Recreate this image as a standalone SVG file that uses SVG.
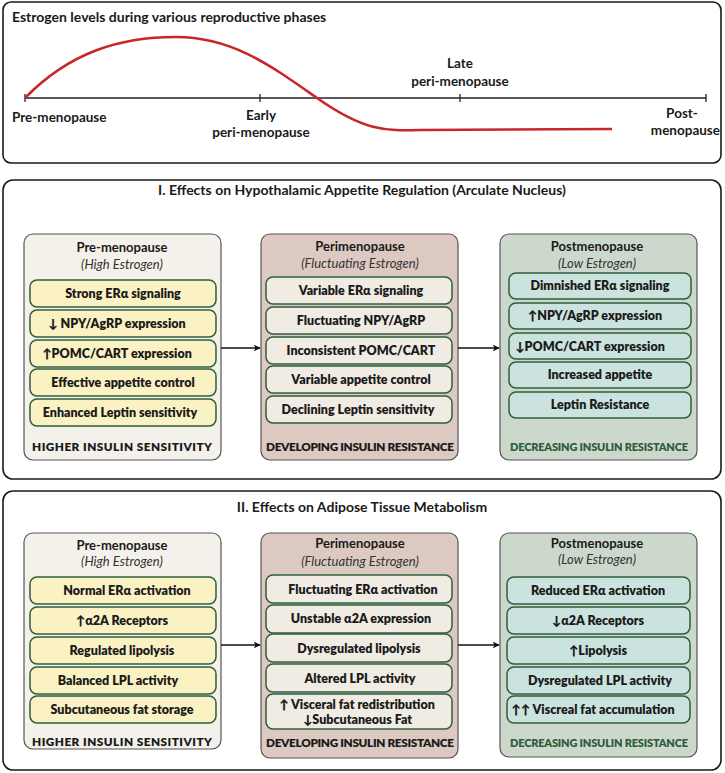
<svg xmlns="http://www.w3.org/2000/svg" width="725" height="773" viewBox="0 0 725 773">
<style>
.panel{fill:#fff;stroke:#1a1a1a;stroke-width:1.6}
.t{font-family:Lato,"Open Sans","DejaVu Sans",sans-serif;fill:#1a1a1a}
.ptitle{font-weight:700;font-size:14px}
.axl{font-family:Lato,"DejaVu Sans",sans-serif;font-weight:700;font-size:13.5px;fill:#1a1a1a}
.bA{fill:#f4f1ea;stroke:#555;stroke-width:1.2}
.bB{fill:#dcc9c1;stroke:#555;stroke-width:1.2}
.bC{fill:#cdd8cc;stroke:#555;stroke-width:1.2}
.iA{fill:#fbf2c4;stroke:#2f5e3d;stroke-width:1.5}
.iB{fill:#f0ece3;stroke:#2f5e3d;stroke-width:1.5}
.iC{fill:#cbe3de;stroke:#2f5e3d;stroke-width:1.5}
.bt{font-weight:700;font-size:13px;text-anchor:middle}
.bs{font-style:italic;font-size:13px;text-anchor:middle;fill:#333}
.it{font-weight:800;font-size:12.5px;text-anchor:middle}
.st{text-anchor:start}
.ft{font-weight:800;font-size:11.8px;text-anchor:middle}
.fg{fill:#2f5e3d;font-size:11px}
.con{stroke:#111;stroke-width:1.6;fill:none}
</style>
<defs>
<marker id="ah" viewBox="0 0 10 10" refX="9" refY="5" markerWidth="7" markerHeight="7" orient="auto" markerUnits="userSpaceOnUse">
<path d="M0,0 L10,5 L0,10 L2.5,5 Z" fill="#111"/>
</marker>
</defs>

<g id="estrogen-chart">
<rect class="panel" x="3" y="2" width="718" height="161" rx="8"/>
<text class="t ptitle" x="12" y="22" font-size="14">Estrogen levels during various reproductive phases</text>
<line x1="25" y1="98" x2="706" y2="98" stroke="#222" stroke-width="1.3"/>
<g stroke="#222" stroke-width="1.3">
<line x1="25" y1="94" x2="25" y2="102"/>
<line x1="260" y1="94" x2="260" y2="102"/>
<line x1="460" y1="94" x2="460" y2="102"/>
<line x1="706" y1="94" x2="706" y2="102"/>
</g>
<path d="M25,98 C70,52 120,37 176,37 S270,65 317,98 S385,131 420,130 L612,129" fill="none" stroke="#c8272a" stroke-width="2.6"/>
<text class="axl" x="12" y="122">Pre-menopause</text>
<text class="axl" x="261" y="120" text-anchor="middle">Early</text>
<text class="axl" x="261" y="137" text-anchor="middle">peri-menopause</text>
<text class="axl" x="460" y="68" text-anchor="middle">Late</text>
<text class="axl" x="460" y="86" text-anchor="middle">peri-menopause</text>
<text class="axl" x="682" y="118" text-anchor="middle">Post-</text>
<text class="axl" x="720" y="135" text-anchor="end">menopause</text>
</g>

<g id="section1">
<rect class="panel" x="3" y="180" width="718" height="299" rx="10"/>
<text class="t ptitle" x="362" y="195" text-anchor="middle">I. Effects on Hypothalamic Appetite Regulation (Arculate Nucleus)</text>
</g>

<g id="s1-pre">
<rect class="bA" x="24" y="234" width="197" height="226" rx="9"/>
<text class="t bt" x="122" y="252">Pre-menopause</text>
<text class="t bs" x="122" y="269">(High Estrogen)</text>
<rect class="iA" x="30" y="280" width="186" height="27" rx="7"/>
<text class="t it" x="123" y="298">Strong ERα signaling</text>
<rect class="iA" x="30" y="310" width="186" height="27" rx="7"/>
<text class="t it" x="117" y="328">↓ NPY/AgRP expression</text>
<rect class="iA" x="30" y="340" width="186" height="27" rx="7"/>
<text class="t it" x="117" y="358">↑POMC/CART expression</text>
<rect class="iA" x="30" y="369" width="186" height="27" rx="7"/>
<text class="t it" x="123" y="387">Effective appetite control</text>
<rect class="iA" x="30" y="399" width="186" height="27" rx="7"/>
<text class="t it" x="120" y="417">Enhanced Leptin sensitivity</text>
<text class="t ft" x="122" y="451" textLength="180">HIGHER INSULIN SENSITIVITY</text>
</g>

<g id="s1-peri">
<rect class="bB" x="261" y="234" width="197" height="226" rx="9"/>
<text class="t bt" x="360" y="251">Perimenopause</text>
<text class="t bs" x="360" y="268">(Fluctuating Estrogen)</text>
<rect class="iB" x="266" y="277" width="186" height="27" rx="7"/>
<text class="t it" x="361" y="295">Variable ERα signaling</text>
<rect class="iB" x="266" y="307" width="186" height="27" rx="7"/>
<text class="t it" x="361" y="325">Fluctuating NPY/AgRP</text>
<rect class="iB" x="266" y="337" width="186" height="27" rx="7"/>
<text class="t it" x="361" y="355">Inconsistent POMC/CART</text>
<rect class="iB" x="266" y="366" width="186" height="27" rx="7"/>
<text class="t it" x="361" y="384">Variable appetite control</text>
<rect class="iB" x="266" y="396" width="186" height="27" rx="7"/>
<text class="t it" x="358" y="414">Declining Leptin sensitivity</text>
<text class="t ft" x="360" y="451" textLength="188">DEVELOPING INSULIN RESISTANCE</text>
</g>

<g id="s1-post">
<rect class="bC" x="500" y="234" width="197" height="226" rx="9"/>
<text class="t bt" x="597" y="251">Postmenopause</text>
<text class="t bs" x="597" y="268">(Low Estrogen)</text>
<rect class="iC" x="509" y="273" width="182" height="26" rx="7"/>
<text class="t it" x="600" y="290">Dimnished ERα signaling</text>
<rect class="iC" x="509" y="303" width="182" height="26" rx="7"/>
<text class="t it" x="595" y="320">↑NPY/AgRP expression</text>
<rect class="iC" x="509" y="333" width="182" height="26" rx="7"/>
<text class="t it" x="590" y="351">↓POMC/CART expression</text>
<rect class="iC" x="509" y="362" width="182" height="26" rx="7"/>
<text class="t it" x="600" y="379">Increased appetite</text>
<rect class="iC" x="509" y="392" width="182" height="26" rx="7"/>
<text class="t it" x="600" y="409">Leptin Resistance</text>
<text class="t ft fg" x="599" y="451" textLength="178">DECREASING INSULIN RESISTANCE</text>
</g>

<g id="section2">
<rect class="panel" x="3" y="491" width="718" height="279" rx="10"/>
<text class="t ptitle" x="362" y="512" text-anchor="middle">II. Effects on Adipose Tissue Metabolism</text>
</g>

<g id="s2-pre">
<rect class="bA" x="24" y="533" width="197" height="216" rx="9"/>
<text class="t bt" x="122" y="550">Pre-menopause</text>
<text class="t bs" x="122" y="566">(High Estrogen)</text>
<rect class="iA" x="30" y="577" width="186" height="27" rx="7"/>
<text class="t it" x="127" y="595">Normal ERα activation</text>
<rect class="iA" x="30" y="607" width="186" height="27" rx="7"/>
<text class="t it" x="122" y="625">↑α2A Receptors</text>
<rect class="iA" x="30" y="637" width="186" height="27" rx="7"/>
<text class="t it" x="122" y="655">Regulated lipolysis</text>
<rect class="iA" x="30" y="667" width="186" height="27" rx="7"/>
<text class="t it" x="118" y="685">Balanced LPL activity</text>
<rect class="iA" x="30" y="696" width="186" height="27" rx="7"/>
<text class="t it" x="122" y="714">Subcutaneous fat storage</text>
<text class="t ft" x="122" y="746" textLength="180">HIGHER INSULIN SENSITIVITY</text>
</g>

<g id="s2-peri">
<rect class="bB" x="261" y="533" width="197" height="225" rx="9"/>
<text class="t bt" x="360" y="548">Perimenopause</text>
<text class="t bs" x="360" y="566">(Fluctuating Estrogen)</text>
<rect class="iB" x="266" y="575" width="186" height="28" rx="7"/>
<text class="t it" x="363" y="594">Fluctuating ERα activation</text>
<rect class="iB" x="266" y="605" width="186" height="28" rx="7"/>
<text class="t it" x="361" y="623">Unstable α2A expression</text>
<rect class="iB" x="266" y="634" width="186" height="28" rx="7"/>
<text class="t it" x="359" y="653">Dysregulated lipolysis</text>
<rect class="iB" x="266" y="664" width="186" height="28" rx="7"/>
<text class="t it" x="360" y="683">Altered LPL activity</text>
<rect class="iB" x="266" y="694" width="186" height="35" rx="7"/>
<text class="t it" x="357" y="709">↑ Visceral fat redistribution</text>
<text class="t it st" x="303" y="724">↓Subcutaneous Fat</text>
<text class="t ft" x="360" y="747" textLength="188">DEVELOPING INSULIN RESISTANCE</text>
</g>

<g id="s2-post">
<rect class="bC" x="500" y="533" width="197" height="224" rx="9"/>
<text class="t bt" x="597" y="548">Postmenopause</text>
<text class="t bs" x="597" y="564">(Low Estrogen)</text>
<rect class="iC" x="507" y="577" width="183" height="27" rx="7"/>
<text class="t it" x="598" y="595">Reduced ERα activation</text>
<rect class="iC" x="507" y="607" width="183" height="27" rx="7"/>
<text class="t it" x="598" y="625">↓α2A Receptors</text>
<rect class="iC" x="507" y="637" width="183" height="27" rx="7"/>
<text class="t it" x="598" y="655">↑Lipolysis</text>
<rect class="iC" x="507" y="667" width="183" height="27" rx="7"/>
<text class="t it" x="600" y="685">Dysregulated LPL activity</text>
<rect class="iC" x="507" y="696" width="183" height="27" rx="7"/>
<text class="t it" x="593" y="714">↑↑ Viscreal fat accumulation</text>
<text class="t ft fg" x="599" y="747" textLength="178">DECREASING INSULIN RESISTANCE</text>
</g>

<g id="connectors">
<line class="con" x1="221" y1="348" x2="260" y2="348" marker-end="url(#ah)"/>
<line class="con" x1="458" y1="348" x2="499" y2="348" marker-end="url(#ah)"/>
<line class="con" x1="221" y1="645" x2="260" y2="645" marker-end="url(#ah)"/>
<line class="con" x1="458" y1="645" x2="499" y2="645" marker-end="url(#ah)"/>
</g>
</svg>
